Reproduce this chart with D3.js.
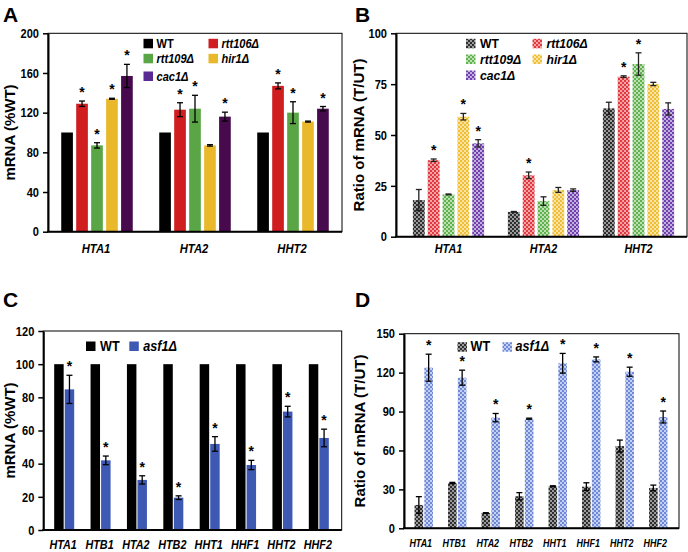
<!DOCTYPE html>
<html><head><meta charset="utf-8">
<script src="https://cdn.jsdelivr.net/npm/d3@7"></script>
<style>
html,body{margin:0;padding:0;background:#fff;}
svg{display:block;}
text{font-family:"Liberation Sans",Arial,sans-serif;font-weight:bold;fill:#000;}
</style></head>
<body>
<svg id="chart" width="688" height="552"></svg>
<script>
// ---------- DATA ----------
const genesAB = ["HTA1", "HTA2", "HHT2"];
const strainsAB = ["WT", "rtt106Δ", "rtt109Δ", "hir1Δ", "cac1Δ"];
const yTicksA = [0, 40, 80, 120, 160, 200];
const yTicksB = [0, 25, 50, 75, 100];

// Panel A: mRNA (%WT)
const aWT = [100, 100, 100];           const aWTErr = [0, 0, 0];
const aRtt106 = [129, 123, 147];       const aRtt106Err = [2.7, 7, 3];
const aRtt109 = [87, 124, 120];        const aRtt109Err = [2.7, 13.5, 11];
const aHir1 = [134, 87, 111];          const aHir1Err = [0.5, 0.7, 0.5];
const aCac1 = [157, 116, 124];         const aCac1Err = [11.7, 4.5, 2.2];
const aSig = [[0,0,0],[1,1,1],[1,1,1],[1,0,0],[1,1,1]];

// Panel B: Ratio of mRNA (T/UT)
const bWT = [18, 12.2, 63.1];          const bWTErr = [5.2, 0.2, 3];
const bRtt106 = [37.6, 30.2, 78.7];    const bRtt106Err = [0.6, 1.6, 0.4];
const bRtt109 = [20.8, 17.5, 84.9];    const bRtt109Err = [0.2, 2.1, 5.5];
const bHir1 = [59, 23, 75.1];          const bHir1Err = [1.6, 1.2, 0.8];
const bCac1 = [45.9, 22.9, 62.8];      const bCac1Err = [1.8, 0.6, 3];
const bSig = [[0,0,0],[1,1,1],[0,0,1],[1,0,0],[1,0,0]];

const genesCD = ["HTA1", "HTB1", "HTA2", "HTB2", "HHT1", "HHF1", "HHT2", "HHF2"];
const strainsCD = ["WT", "asf1Δ"];
const yTicksC = [0, 20, 40, 60, 80, 100, 120];
const yTicksD = [0, 30, 60, 90, 120, 150];

// Panel C: mRNA (%WT)
const cWT = [100, 100, 100, 100, 100, 100, 100, 100];
const cWTErr = [0, 0, 0, 0, 0, 0, 0, 0];
const cAsf1 = [84.8, 42, 30.2, 19.5, 51.9, 39.2, 71.4, 55.5];
const cAsf1Err = [8.5, 2.6, 2.5, 1.1, 4.4, 2.8, 3.2, 5.3];
const cSig = [[0,0,0,0,0,0,0,0],[1,1,1,1,1,1,1,1]];

// Panel D: Ratio of mRNA (T/UT)
const dWT = [18, 34.9, 11.8, 24.7, 32.4, 32.1, 63.4, 31.1];
const dWTErr = [6.4, 0.5, 0.2, 2.8, 0.4, 3, 4.6, 2.2];
const dAsf1 = [123.8, 116.1, 85.3, 84.5, 127.2, 130.2, 120.7, 85.8];
const dAsf1Err = [10.4, 5.8, 3.2, 0.4, 7.6, 1.9, 3.5, 4.6];
const dSig = [[0,0,0,0,0,0,0,0],[1,1,1,1,1,1,1,1]];

// ---------- STYLE ----------
const solidColorsAB = ["#000000", "#cf1d20", "#5aa647", "#e9b82b", "#470a4d"];
const legendColorsAB = ["#000000", "#cf1d20", "#5aa647", "#e9b82b", "#5a2a94"];
const patColorsAB = [["#2e2e2e","#9a9a9a"],["#e03a40","#f3a3a5"],["#5fb24e","#bde0b2"],["#f0be35","#f8e3a3"],["#7040ad","#c3aee0"]];
const solidColorsCD = ["#000000", "#3e59b3"];
const patColorsCD = [["#2e2e2e","#9a9a9a"],["#6f89d6","#c3d0f2"]];

const svg = d3.select("#chart");
const defs = svg.append("defs");
function makePattern(id, fg, bg) {
  const p = defs.append("pattern").attr("id", id).attr("patternUnits", "userSpaceOnUse")
    .attr("width", 4).attr("height", 4);
  p.append("rect").attr("width", 4).attr("height", 4).attr("fill", bg);
  p.append("rect").attr("x", 0).attr("y", 0).attr("width", 2).attr("height", 2).attr("fill", fg);
  p.append("rect").attr("x", 2).attr("y", 2).attr("width", 2).attr("height", 2).attr("fill", fg);
  return `url(#${id})`;
}
const patFillsAB = patColorsAB.map((c, i) => makePattern("pab" + i, c[0], c[1]));
const patFillsCD = patColorsCD.map((c, i) => makePattern("pcd" + i, c[0], c[1]));

// horizontally condense text (emulates a narrow face)
function squeeze(sel, k) {
  sel.each(function() {
    const w = this.getComputedTextLength();
    if (w > 0) d3.select(this).attr("textLength", w * k).attr("lengthAdjust", "spacingAndGlyphs");
  });
}

function drawPanel(cfg) {
  const g = svg.append("g");
  const f = cfg.frame;
  const y = d3.scaleLinear().domain(cfg.yDomain).range([f.bottom, f.top]);
  const x0 = d3.scaleBand().domain(cfg.genes).range(cfg.xRange)
    .paddingInner(cfg.padOuterBand).paddingOuter(cfg.padOuterBand / 2);
  const x1 = d3.scaleBand().domain(cfg.series.map((s, i) => i)).range([0, x0.bandwidth()])
    .paddingInner(cfg.padInner);

  g.append("rect").attr("x", f.left).attr("y", f.top).attr("width", f.right - f.left)
    .attr("height", f.bottom - f.top).attr("fill", "none").attr("stroke", "#000").attr("stroke-width", 1);

  cfg.values.forEach((vals, si) => {
    vals.forEach((v, gi) => {
      const bx = x0(cfg.genes[gi]) + x1(si);
      g.append("rect").attr("x", bx).attr("y", y(v)).attr("width", x1.bandwidth())
        .attr("height", y(0) - y(v)).attr("fill", cfg.fills[si]);
    });
  });
  cfg.values.forEach((vals, si) => {
    vals.forEach((v, gi) => {
      const cx = x0(cfg.genes[gi]) + x1(si) + x1.bandwidth() / 2;
      const e = cfg.errors[si][gi];
      if (e > 0) {
        const eg = g.append("g").attr("stroke", cfg.errColor).attr("stroke-width", 1.3);
        eg.append("line").attr("x1", cx).attr("x2", cx).attr("y1", y(v - e)).attr("y2", y(v + e));
        eg.append("line").attr("x1", cx - cfg.cap).attr("x2", cx + cfg.cap).attr("y1", y(v + e)).attr("y2", y(v + e));
        eg.append("line").attr("x1", cx - cfg.cap).attr("x2", cx + cfg.cap).attr("y1", y(v - e)).attr("y2", y(v - e));
      }
      if (cfg.sig[si][gi]) {
        g.append("text").attr("x", cx).attr("y", y(v + e) - 4).attr("text-anchor", "middle")
          .style("font-size", "14px").text("*");
      }
    });
  });

  const ya = g.append("g").attr("transform", `translate(${f.left},0)`)
    .call(d3.axisLeft(y).tickValues(cfg.yTicks).tickSize(5).tickPadding(4).tickSizeOuter(0));
  ya.select(".domain").attr("stroke-width", 2).attr("stroke", "#000");
  ya.selectAll(".tick line").attr("stroke-width", 1.5).attr("stroke", "#000");
  const tt = ya.selectAll(".tick text").style("font-size", cfg.tickFont + "px")
    .style("font-family", "Liberation Sans, Arial, sans-serif").style("font-weight", "bold").attr("fill", "#000");
  squeeze(tt, 0.85);
  g.append("line").attr("x1", f.left - 1).attr("x2", f.right).attr("y1", f.bottom).attr("y2", f.bottom)
    .attr("stroke", "#000").attr("stroke-width", 2);
  cfg.genes.forEach(gn => {
    const t = g.append("text").attr("x", x0(gn) + x0.bandwidth() / 2 + cfg.xLabelShift).attr("y", cfg.xLabelY)
      .attr("text-anchor", "middle").style("font-style", "italic").style("font-size", cfg.xFont + "px").text(gn);
    squeeze(t, cfg.xSqueeze);
  });
  g.append("text").attr("transform", `translate(${cfg.yLabelX},${(f.top + f.bottom) / 2 + cfg.yLabelShift}) rotate(-90)`)
    .attr("text-anchor", "middle").style("font-size", "15px").text(cfg.yLabel);
  g.append("text").attr("x", cfg.letterX).attr("y", cfg.letterY)
    .style("font-size", "21px").text(cfg.letter);
  cfg.legend.forEach(it => {
    g.append("rect").attr("x", it.x).attr("y", it.y - 4.5).attr("width", 9.5).attr("height", 9.5)
      .attr("fill", cfg.legendFills[it.i]);
    const t = g.append("text").attr("x", it.x + cfg.legendGap).attr("y", it.y + 4.5)
      .style("font-size", cfg.legendFont + "px").style("font-style", it.i === 0 ? "normal" : "italic")
      .text(cfg.series[it.i]);
    squeeze(t, cfg.legendSqueeze);
  });
}

drawPanel({
  letter: "A", letterX: 3, letterY: 22,
  frame: {left: 48, right: 342, top: 33.3, bottom: 231.7},
  xRange: [48, 342], padOuterBand: 0.27, padInner: 0.22,
  yDomain: [0, 200], yTicks: yTicksA,
  genes: genesAB, series: strainsAB,
  values: [aWT, aRtt106, aRtt109, aHir1, aCac1],
  errors: [aWTErr, aRtt106Err, aRtt109Err, aHir1Err, aCac1Err],
  sig: aSig, fills: solidColorsAB, legendFills: legendColorsAB, errColor: "#000", cap: 3,
  tickFont: 13, xFont: 12.5, xSqueeze: 0.9, xLabelY: 253, xLabelShift: -1,
  yLabel: "mRNA  (%WT)", yLabelX: 15, yLabelShift: 0,
  legendFont: 12, legendSqueeze: 0.92, legendGap: 13,
  legend: [{i:0,x:143.5,y:43.3},{i:1,x:208.5,y:43.3},{i:2,x:143.5,y:58.3},{i:3,x:208.5,y:58.3},{i:4,x:143.5,y:76}]
});

drawPanel({
  letter: "B", letterX: 355, letterY: 22,
  frame: {left: 396, right: 687, top: 33.3, bottom: 236.7},
  xRange: [401, 686], padOuterBand: 0.25, padInner: 0.2,
  yDomain: [0, 100], yTicks: yTicksB,
  genes: genesAB, series: strainsAB,
  values: [bWT, bRtt106, bRtt109, bHir1, bCac1],
  errors: [bWTErr, bRtt106Err, bRtt109Err, bHir1Err, bCac1Err],
  sig: bSig, fills: patFillsAB, legendFills: patFillsAB, errColor: "#222", cap: 3,
  tickFont: 13, xFont: 12, xSqueeze: 0.9, xLabelY: 253, xLabelShift: 0,
  yLabel: "Ratio of mRNA (T/UT)", yLabelX: 364, yLabelShift: 0,
  legendFont: 13.5, legendSqueeze: 0.9, legendGap: 14,
  legend: [{i:0,x:466,y:43.3},{i:1,x:532.5,y:43.3},{i:2,x:466,y:59},{i:3,x:532.5,y:59},{i:4,x:466,y:75}]
});

drawPanel({
  letter: "C", letterX: 3, letterY: 307,
  frame: {left: 43.3, right: 341.7, top: 331, bottom: 530},
  xRange: [46, 337], padOuterBand: 0.45, padInner: 0.1,
  yDomain: [0, 120], yTicks: yTicksC,
  genes: genesCD, series: strainsCD,
  values: [cWT, cAsf1], errors: [cWTErr, cAsf1Err],
  sig: cSig, fills: solidColorsCD, legendFills: solidColorsCD, errColor: "#000", cap: 3,
  tickFont: 13, xFont: 12, xSqueeze: 0.9, xLabelY: 549, xLabelShift: -1,
  yLabel: "mRNA (%WT)", yLabelX: 15, yLabelShift: 0,
  legendFont: 14, legendSqueeze: 0.9, legendGap: 14,
  legend: [{i:0,x:86,y:346},{i:1,x:129.3,y:346}]
});

drawPanel({
  letter: "D", letterX: 355, letterY: 307,
  frame: {left: 404, right: 679, top: 333.7, bottom: 528.3},
  xRange: [407, 675], padOuterBand: 0.45, padInner: 0.12,
  yDomain: [0, 150], yTicks: yTicksD,
  genes: genesCD, series: strainsCD,
  values: [dWT, dAsf1], errors: [dWTErr, dAsf1Err],
  sig: dSig, fills: patFillsCD, legendFills: patFillsCD, errColor: "#000", cap: 3,
  tickFont: 13, xFont: 10.5, xSqueeze: 0.85, xLabelY: 547, xLabelShift: -3,
  yLabel: "Ratio of mRNA (T/UT)", yLabelX: 365, yLabelShift: 0,
  legendFont: 14, legendSqueeze: 0.9, legendGap: 13,
  legend: [{i:0,x:457.5,y:346.7},{i:1,x:502.5,y:346.7}]
});
</script>
</body></html>
